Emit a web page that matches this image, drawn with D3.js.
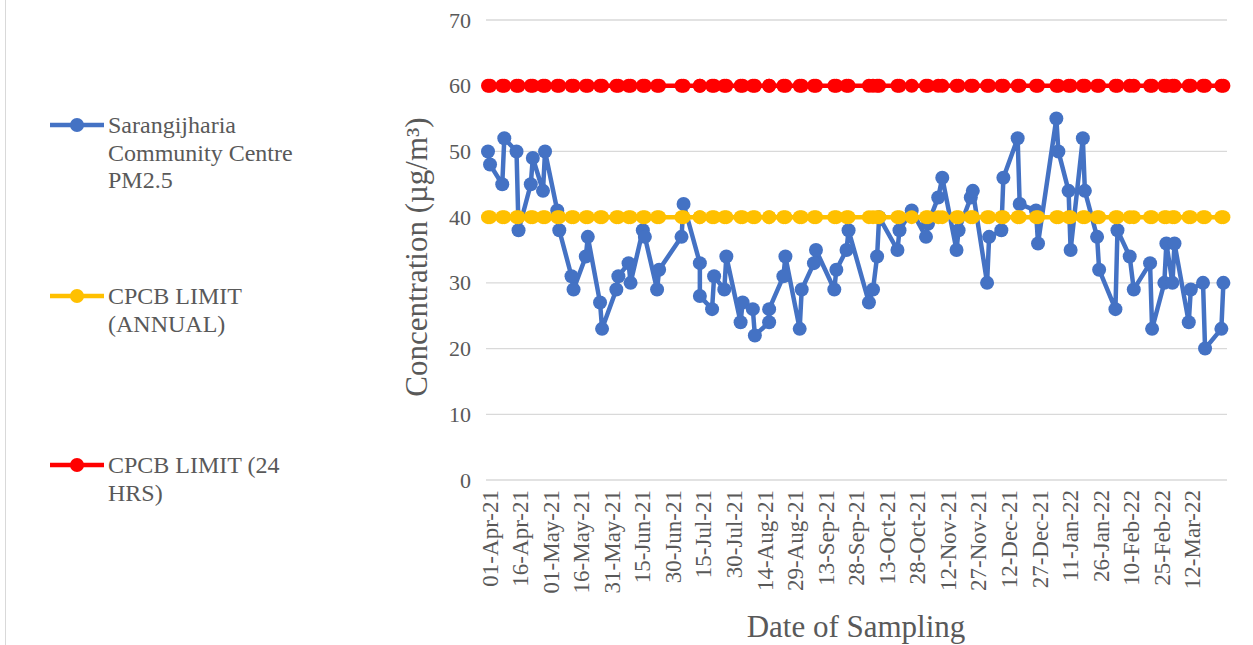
<!DOCTYPE html>
<html>
<head>
<meta charset="utf-8">
<script src="https://cdn.jsdelivr.net/npm/d3@7"></script>
<style>
  html, body { margin: 0; padding: 0; background: #ffffff; }
  svg { display: block; }
  text { font-family: "Liberation Serif", "Times New Roman", serif; fill: #595959; }
</style>
</head>
<body>
<svg id="chart" width="1253" height="645"></svg>
<script>
// ---------------- data ----------------
const sampleDates = [
  "2021-04-01","2021-04-02","2021-04-08","2021-04-09","2021-04-15","2021-04-16",
  "2021-04-22","2021-04-23","2021-04-28","2021-04-29","2021-05-05","2021-05-06",
  "2021-05-12","2021-05-13","2021-05-19","2021-05-20","2021-05-26","2021-05-27",
  "2021-06-03","2021-06-04","2021-06-09","2021-06-10","2021-06-16","2021-06-17",
  "2021-06-23","2021-06-24","2021-07-05","2021-07-06","2021-07-14","2021-07-14",
  "2021-07-20","2021-07-21","2021-07-26","2021-07-27","2021-08-03","2021-08-04",
  "2021-08-09","2021-08-10","2021-08-17","2021-08-17","2021-08-24","2021-08-25",
  "2021-09-01","2021-09-02","2021-09-08","2021-09-09","2021-09-18","2021-09-19",
  "2021-09-24","2021-09-25","2021-10-05","2021-10-07","2021-10-09","2021-10-10",
  "2021-10-19","2021-10-20","2021-10-26","2021-11-02","2021-11-03","2021-11-08",
  "2021-11-10","2021-11-17","2021-11-18","2021-11-24","2021-11-25","2021-12-02",
  "2021-12-03","2021-12-09","2021-12-10","2021-12-17","2021-12-18","2021-12-26",
  "2021-12-27","2022-01-05","2022-01-06","2022-01-11","2022-01-12","2022-01-18",
  "2022-01-19","2022-01-25","2022-01-26","2022-02-03","2022-02-04","2022-02-10",
  "2022-02-12","2022-02-20","2022-02-21","2022-02-27","2022-02-28","2022-03-03",
  "2022-03-04","2022-03-11","2022-03-12","2022-03-18","2022-03-19","2022-03-27",
  "2022-03-28"
];
const pm25 = [
  50,48,45,52,50,38,
  45,49,44,50,41,38,
  31,29,34,37,27,23,
  29,31,33,30,38,37,
  29,32,37,42,33,28,
  26,31,29,34,24,27,
  26,22,24,26,31,34,
  23,29,33,35,29,32,
  35,38,27,29,34,40,
  35,38,41,37,39,43,
  46,35,38,43,44,30,
  37,38,46,52,42,41,
  36,55,50,44,35,52,
  44,37,32,26,38,34,
  29,33,23,30,36,30,
  36,24,29,30,20,23,
  30
];
const cpcbAnnualLimit = 40;   // µg/m³
const cpcb24hrLimit = 60;     // µg/m³
const yTicks = [0,10,20,30,40,50,60,70];
const xTickLabels = [
  "01-Apr-21","16-Apr-21","01-May-21","16-May-21","31-May-21","15-Jun-21",
  "30-Jun-21","15-Jul-21","30-Jul-21","14-Aug-21","29-Aug-21","13-Sep-21",
  "28-Sep-21","13-Oct-21","28-Oct-21","12-Nov-21","27-Nov-21","12-Dec-21",
  "27-Dec-21","11-Jan-22","26-Jan-22","10-Feb-22","25-Feb-22","12-Mar-22"
];
const seriesNames = [
  ["Sarangijharia", "Community Centre", "PM2.5"],
  ["CPCB LIMIT", "(ANNUAL)"],
  ["CPCB LIMIT (24", "HRS)"]
];
const seriesColors = ["#4472C4", "#FFC000", "#FF0000"];

// ---------------- build ----------------
const parseISO = d3.utcParse("%Y-%m-%d");
const parseTick = d3.utcParse("%d-%b-%y");
const dates = sampleDates.map(parseISO);
const series = [
  dates.map((d, i) => ({ date: d, value: pm25[i] })),
  dates.map(d => ({ date: d, value: cpcbAnnualLimit })),
  dates.map(d => ({ date: d, value: cpcb24hrLimit }))
];

const svg = d3.select("#chart");
const plot = { left: 486, right: 1227, top: 20, bottom: 480 };

const x = d3.scaleUtc()
  .domain(d3.extent(dates))
  .range([488, 1223.4]);
const y = d3.scaleLinear().domain([0, 70]).range([plot.bottom, plot.top]);

// chart-area left border
svg.append("line")
  .attr("x1", 5.5).attr("x2", 5.5).attr("y1", 0).attr("y2", 645)
  .attr("stroke", "#D9D9D9").attr("stroke-width", 1);

// gridlines
svg.append("g").selectAll("line").data(yTicks).join("line")
  .attr("x1", plot.left).attr("x2", plot.right)
  .attr("y1", d => y(d)).attr("y2", d => y(d))
  .attr("stroke", "#D9D9D9").attr("stroke-width", 1.3);

// y axis labels
const yAxis = d3.axisLeft(y).tickValues(yTicks).tickSize(0).tickPadding(0);
const gy = svg.append("g").attr("transform", "translate(471,0)").call(yAxis);
gy.select(".domain").remove();
gy.selectAll("text")
  .attr("font-size", 22).attr("fill", "#595959")
  .attr("font-family", "Liberation Serif, serif");

// x axis labels
const tickDates = xTickLabels.map(parseTick);
const xAxis = d3.axisBottom(x).tickValues(tickDates)
  .tickFormat(d3.utcFormat("%d-%b-%y")).tickSize(0).tickPadding(0);
const gx = svg.append("g").attr("transform", `translate(0,${plot.bottom})`).call(xAxis);
gx.select(".domain").remove();
gx.selectAll("text")
  .attr("font-size", 23).attr("fill", "#595959")
  .attr("font-family", "Liberation Serif, serif")
  .attr("text-anchor", "end")
  .attr("dy", "0.35em")
  .attr("transform", "translate(1,10) rotate(-90)")
  .attr("x", 0).attr("y", 0);

// series
const line = d3.line().x(d => x(d.date)).y(d => y(d.value));
series.forEach((s, i) => {
  const g = svg.append("g");
  g.append("path").datum(s)
    .attr("d", line).attr("fill", "none")
    .attr("stroke", seriesColors[i]).attr("stroke-width", 4.5)
    .attr("stroke-linejoin", "round");
  g.selectAll("circle").data(s).join("circle")
    .attr("cx", d => x(d.date)).attr("cy", d => y(d.value))
    .attr("r", 7).attr("fill", seriesColors[i]);
});

// axis titles
svg.append("text")
  .attr("transform", "translate(427,257) rotate(-90)")
  .attr("text-anchor", "middle")
  .attr("font-size", 31)
  .text("Concentration (µg/m³)");
svg.append("text")
  .attr("x", 856).attr("y", 637)
  .attr("text-anchor", "middle")
  .attr("font-size", 31)
  .text("Date of Sampling");

// legend
const legendY = [125, 296, 465];
seriesNames.forEach((lines, i) => {
  const g = svg.append("g").attr("transform", `translate(0,${legendY[i]})`);
  g.append("line").attr("x1", 50).attr("x2", 104).attr("y1", 0).attr("y2", 0)
    .attr("stroke", seriesColors[i]).attr("stroke-width", 4.5);
  g.append("circle").attr("cx", 77).attr("cy", 0).attr("r", 7).attr("fill", seriesColors[i]);
  const t = g.append("text").attr("x", 108).attr("y", 0).attr("font-size", 24);
  lines.forEach((ln, j) => {
    t.append("tspan").attr("x", 108).attr("y", j * 27.5).attr("dy", "0.35em").text(ln);
  });
});
</script>
</body>
</html>
